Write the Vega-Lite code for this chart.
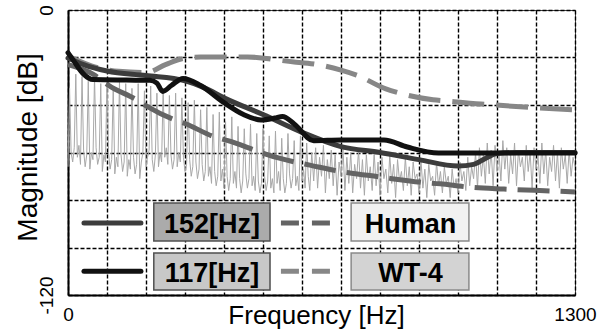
{
  "$schema": "https://vega.github.io/schema/vega-lite/v6.json",
  "width": 507,
  "height": 285,
  "autosize": {"type": "none"},
  "padding": {"left": 68, "top": 10, "right": 23, "bottom": 35},
  "background": "white",
  "config": {"view": {"stroke": "#444", "strokeWidth": 1}, "font": "Liberation Sans"},
  "datasets": {
    "noise": [
      {"f":0,"m":-66},{"f":4,"m":-33},{"f":8,"m":-60},{"f":12,"m":-64},{"f":16,"m":-58},{"f":20,"m":-27},{"f":24,"m":-62},{"f":28,"m":-57},{"f":32,"m":-65},{"f":36,"m":-28},{"f":40,"m":-59},{"f":44,"m":-66},{"f":48,"m":-61},{"f":52,"m":-30},{"f":56,"m":-67},{"f":60,"m":-60},{"f":64,"m":-63},{"f":68,"m":-28},{"f":72,"m":-58},{"f":76,"m":-65},{"f":80,"m":-62},{"f":84,"m":-31},{"f":88,"m":-68},{"f":92,"m":-61},{"f":96,"m":-64},{"f":100,"m":-29},{"f":104,"m":-60},{"f":108,"m":-67},{"f":112,"m":-63},{"f":116,"m":-32},{"f":120,"m":-69},{"f":124,"m":-62},{"f":128,"m":-66},{"f":132,"m":-30},{"f":136,"m":-61},{"f":140,"m":-68},{"f":144,"m":-64},{"f":148,"m":-31},{"f":152,"m":-70},{"f":156,"m":-63},{"f":160,"m":-67},{"f":164,"m":-33},{"f":168,"m":-62},{"f":172,"m":-69},{"f":176,"m":-65},{"f":180,"m":-31},{"f":184,"m":-71},{"f":188,"m":-64},{"f":192,"m":-60},{"f":196,"m":-34},{"f":200,"m":-66},{"f":204,"m":-62},{"f":208,"m":-59},{"f":212,"m":-32},{"f":216,"m":-63},{"f":220,"m":-68},{"f":224,"m":-61},{"f":228,"m":-35},{"f":232,"m":-66},{"f":236,"m":-60},{"f":240,"m":-64},{"f":244,"m":-33},{"f":248,"m":-62},{"f":252,"m":-58},{"f":256,"m":-65},{"f":260,"m":-36},{"f":264,"m":-61},{"f":268,"m":-67},{"f":272,"m":-63},{"f":276,"m":-35},{"f":280,"m":-66},{"f":284,"m":-60},{"f":288,"m":-64},{"f":292,"m":-37},{"f":296,"m":-62},{"f":300,"m":-68},{"f":304,"m":-65},{"f":308,"m":-39},{"f":312,"m":-63},{"f":316,"m":-70},{"f":320,"m":-66},{"f":324,"m":-38},{"f":328,"m":-64},{"f":332,"m":-71},{"f":336,"m":-67},{"f":340,"m":-42},{"f":344,"m":-65},{"f":348,"m":-72},{"f":352,"m":-68},{"f":356,"m":-41},{"f":360,"m":-70},{"f":364,"m":-66},{"f":368,"m":-73},{"f":372,"m":-44},{"f":376,"m":-68},{"f":380,"m":-74},{"f":384,"m":-70},{"f":388,"m":-43},{"f":392,"m":-72},{"f":396,"m":-67},{"f":400,"m":-75},{"f":404,"m":-47},{"f":408,"m":-70},{"f":412,"m":-76},{"f":416,"m":-71},{"f":420,"m":-45},{"f":424,"m":-73},{"f":428,"m":-68},{"f":432,"m":-75},{"f":436,"m":-49},{"f":440,"m":-71},{"f":444,"m":-77},{"f":448,"m":-72},{"f":452,"m":-50},{"f":456,"m":-69},{"f":460,"m":-75},{"f":464,"m":-71},{"f":468,"m":-48},{"f":472,"m":-74},{"f":476,"m":-70},{"f":480,"m":-76},{"f":484,"m":-52},{"f":488,"m":-72},{"f":492,"m":-77},{"f":496,"m":-73},{"f":500,"m":-50},{"f":504,"m":-70},{"f":508,"m":-76},{"f":512,"m":-72},{"f":516,"m":-53},{"f":520,"m":-75},{"f":524,"m":-71},{"f":528,"m":-77},{"f":532,"m":-51},{"f":536,"m":-73},{"f":540,"m":-68},{"f":544,"m":-76},{"f":548,"m":-54},{"f":552,"m":-71},{"f":556,"m":-77},{"f":560,"m":-73},{"f":564,"m":-52},{"f":568,"m":-69},{"f":572,"m":-75},{"f":576,"m":-71},{"f":580,"m":-55},{"f":584,"m":-74},{"f":588,"m":-70},{"f":592,"m":-76},{"f":596,"m":-53},{"f":600,"m":-72},{"f":604,"m":-67},{"f":608,"m":-75},{"f":612,"m":-56},{"f":616,"m":-70},{"f":620,"m":-76},
      {"f":625,"m":-60},{"f":630,"m":-72},{"f":635,"m":-58},{"f":640,"m":-75},{"f":645,"m":-62},{"f":650,"m":-70},{"f":655,"m":-57},{"f":660,"m":-77},{"f":665,"m":-63},{"f":670,"m":-71},{"f":675,"m":-59},{"f":680,"m":-74},{"f":685,"m":-61},{"f":690,"m":-78},{"f":695,"m":-64},{"f":700,"m":-70},{"f":705,"m":-58},{"f":710,"m":-76},{"f":715,"m":-62},{"f":720,"m":-73},{"f":725,"m":-60},{"f":730,"m":-77},{"f":735,"m":-65},{"f":740,"m":-71},{"f":745,"m":-59},{"f":750,"m":-75},{"f":755,"m":-63},{"f":760,"m":-78},{"f":765,"m":-61},{"f":770,"m":-72},{"f":775,"m":-66},{"f":780,"m":-76},{"f":785,"m":-60},{"f":790,"m":-74},{"f":795,"m":-64},{"f":800,"m":-78},{"f":805,"m":-62},{"f":810,"m":-71},{"f":815,"m":-67},{"f":820,"m":-77},{"f":825,"m":-61},{"f":830,"m":-73},{"f":835,"m":-65},{"f":840,"m":-79},{"f":845,"m":-63},{"f":850,"m":-72},{"f":855,"m":-68},{"f":860,"m":-76},{"f":865,"m":-62},{"f":870,"m":-74},{"f":875,"m":-66},{"f":880,"m":-78},{"f":885,"m":-64},{"f":890,"m":-71},{"f":895,"m":-69},{"f":900,"m":-77},{"f":905,"m":-63},{"f":910,"m":-75},{"f":915,"m":-67},{"f":920,"m":-79},{"f":925,"m":-65},{"f":930,"m":-72},{"f":935,"m":-70},{"f":940,"m":-78},{"f":945,"m":-64},{"f":950,"m":-74},{"f":955,"m":-68},{"f":960,"m":-77},{"f":965,"m":-66},{"f":970,"m":-73},{"f":975,"m":-70},{"f":980,"m":-79},{"f":985,"m":-67},{"f":990,"m":-75},{"f":995,"m":-71},{"f":1000,"m":-77},{"f":1005,"m":-64},{"f":1010,"m":-72},{"f":1015,"m":-68},{"f":1020,"m":-76},{"f":1025,"m":-62},{"f":1030,"m":-74},{"f":1035,"m":-66},{"f":1040,"m":-71},{"f":1045,"m":-60},{"f":1050,"m":-75},{"f":1055,"m":-58},{"f":1060,"m":-70},{"f":1065,"m":-61},{"f":1070,"m":-73},{"f":1075,"m":-56},{"f":1080,"m":-69},{"f":1085,"m":-59},{"f":1090,"m":-74},{"f":1095,"m":-57},{"f":1100,"m":-68},{"f":1105,"m":-60},{"f":1110,"m":-72},{"f":1115,"m":-55},{"f":1120,"m":-67},{"f":1125,"m":-58},{"f":1130,"m":-73},{"f":1135,"m":-61},{"f":1140,"m":-69},{"f":1145,"m":-56},{"f":1150,"m":-74},{"f":1155,"m":-59},{"f":1160,"m":-66},{"f":1165,"m":-62},{"f":1170,"m":-72},{"f":1175,"m":-57},{"f":1180,"m":-68},{"f":1185,"m":-60},{"f":1190,"m":-75},{"f":1195,"m":-58},{"f":1200,"m":-67},{"f":1205,"m":-61},{"f":1210,"m":-73},{"f":1215,"m":-56},{"f":1220,"m":-69},{"f":1225,"m":-59},{"f":1230,"m":-74},{"f":1235,"m":-62},{"f":1240,"m":-68},{"f":1245,"m":-57},{"f":1250,"m":-72},{"f":1255,"m":-60},{"f":1260,"m":-75},{"f":1265,"m":-58},{"f":1270,"m":-67},{"f":1275,"m":-61},{"f":1280,"m":-73},{"f":1285,"m":-59},{"f":1290,"m":-70},{"f":1295,"m":-62},{"f":1300,"m":-66}
    ],
    "curves": [
      {"s":"WT-4","f":0,"m":-19.4},{"s":"WT-4","f":60,"m":-23.5},{"s":"WT-4","f":130,"m":-25.8},{"s":"WT-4","f":200,"m":-26.3},{"s":"WT-4","f":250,"m":-23},{"s":"WT-4","f":290,"m":-20.6},{"s":"WT-4","f":340,"m":-19.8},{"s":"WT-4","f":460,"m":-19.8},{"s":"WT-4","f":580,"m":-21.9},{"s":"WT-4","f":615,"m":-22.4},{"s":"WT-4","f":700,"m":-25.3},{"s":"WT-4","f":740,"m":-27.4},{"s":"WT-4","f":815,"m":-33.2},{"s":"WT-4","f":846,"m":-34.8},{"s":"WT-4","f":936,"m":-37.8},{"s":"WT-4","f":969,"m":-38.3},{"s":"WT-4","f":1059,"m":-39.6},{"s":"WT-4","f":1095,"m":-40},{"s":"WT-4","f":1185,"m":-41},{"s":"WT-4","f":1300,"m":-42.1},
      {"s":"Human","f":0,"m":-23},{"s":"Human","f":64,"m":-27},{"s":"Human","f":105,"m":-31.8},{"s":"Human","f":177,"m":-37.9},{"s":"Human","f":205,"m":-40.8},{"s":"Human","f":274,"m":-46.3},{"s":"Human","f":300,"m":-47.8},{"s":"Human","f":377,"m":-53.5},{"s":"Human","f":410,"m":-55},{"s":"Human","f":479,"m":-59},{"s":"Human","f":513,"m":-61},{"s":"Human","f":582,"m":-64},{"s":"Human","f":620,"m":-65.3},{"s":"Human","f":692,"m":-67.8},{"s":"Human","f":723,"m":-68.6},{"s":"Human","f":800,"m":-70.3},{"s":"Human","f":826,"m":-70.9},{"s":"Human","f":910,"m":-72.6},{"s":"Human","f":954,"m":-73.2},{"s":"Human","f":1023,"m":-74.5},{"s":"Human","f":1118,"m":-75.4},{"s":"Human","f":1241,"m":-76.2},{"s":"Human","f":1300,"m":-76.6},
      {"s":"152[Hz]","f":0,"m":-20.2},{"s":"152[Hz]","f":40,"m":-23},{"s":"152[Hz]","f":100,"m":-25.7},{"s":"152[Hz]","f":200,"m":-27.6},{"s":"152[Hz]","f":300,"m":-29.8},{"s":"152[Hz]","f":350,"m":-32.8},{"s":"152[Hz]","f":400,"m":-37},{"s":"152[Hz]","f":500,"m":-44},{"s":"152[Hz]","f":600,"m":-51.5},{"s":"152[Hz]","f":700,"m":-57.5},{"s":"152[Hz]","f":800,"m":-60},{"s":"152[Hz]","f":900,"m":-63},{"s":"152[Hz]","f":1000,"m":-65.7},{"s":"152[Hz]","f":1040,"m":-65},{"s":"152[Hz]","f":1070,"m":-62.5},{"s":"152[Hz]","f":1100,"m":-60.4},{"s":"152[Hz]","f":1150,"m":-60},{"s":"152[Hz]","f":1300,"m":-60},
      {"s":"117[Hz]","f":0,"m":-18},{"s":"117[Hz]","f":13,"m":-21},{"s":"117[Hz]","f":40,"m":-27},{"s":"117[Hz]","f":64,"m":-29.3},{"s":"117[Hz]","f":150,"m":-29.5},{"s":"117[Hz]","f":210,"m":-29.6},{"s":"117[Hz]","f":228,"m":-30.8},{"s":"117[Hz]","f":243,"m":-34.3},{"s":"117[Hz]","f":265,"m":-31.8},{"s":"117[Hz]","f":295,"m":-28.8},{"s":"117[Hz]","f":340,"m":-31.8},{"s":"117[Hz]","f":400,"m":-39},{"s":"117[Hz]","f":450,"m":-44},{"s":"117[Hz]","f":495,"m":-46.3},{"s":"117[Hz]","f":530,"m":-45.5},{"s":"117[Hz]","f":550,"m":-44.8},{"s":"117[Hz]","f":580,"m":-48},{"s":"117[Hz]","f":630,"m":-55},{"s":"117[Hz]","f":700,"m":-54.7},{"s":"117[Hz]","f":810,"m":-54.7},{"s":"117[Hz]","f":870,"m":-57.7},{"s":"117[Hz]","f":950,"m":-60.2},{"s":"117[Hz]","f":1300,"m":-60.2}
    ],
    "legend": [
      {"label":"152[Hz]","f":220,"f2":518,"m":-81.3,"m2":-97.3,"tf":369,"tm":-93.8,"lf":41,"lf2":187,"lm":-89.7},
      {"label":"117[Hz]","f":220,"f2":518,"m":-102.3,"m2":-117.9,"tf":369,"tm":-114.4,"lf":41,"lf2":187,"lm":-110},
      {"label":"Human","f":726,"f2":1028,"m":-81.3,"m2":-97.3,"tf":878,"tm":-93.8,"lf":546,"lf2":672,"lm":-89.7},
      {"label":"WT-4","f":726,"f2":1028,"m":-102.3,"m2":-117.9,"tf":878,"tm":-114.4,"lf":546,"lf2":672,"lm":-110}
    ]
  },
  "layer": [
    {
      "data": {"name": "noise"},
      "mark": {"type": "line", "color": "#a8a8a8", "strokeWidth": 1},
      "encoding": {
        "x": {"field": "f", "type": "quantitative", "scale": {"domain": [0, 1300], "nice": false, "zero": false},
          "axis": {"values": [0,100,200,300,400,500,600,700,800,900,1000,1100,1200,1300], "tickCount": 30,
            "labelExpr": "datum.value==0?'0':(datum.value==1300?'1300':'')",
            "grid": true, "gridColor": "#000", "gridDash": [4, 2], "gridWidth": 1.4, "gridOpacity": 1,
            "ticks": false, "domain": true, "domainColor": "#000", "domainWidth": 2,
            "labelFont": "Liberation Sans", "labelFontSize": 19, "labelColor": "#000", "labelPadding": 10, "labelFlush": false, "labelOverlap": false,
            "title": "Frequency [Hz]", "titleFont": "Liberation Sans", "titleFontSize": 26, "titleFontWeight": "normal", "titleColor": "#000",
            "titleX": 248, "titleY": 28, "titleBaseline": "alphabetic", "titleAlign": "center"}},
        "y": {"field": "m", "type": "quantitative", "scale": {"domain": [-120, 0], "nice": false, "zero": false},
          "axis": {"values": [-120,-100,-80,-60,-40,-20,0], "tickCount": 30,
            "labelExpr": "datum.value==0?'0':(datum.value==-120?'-120':'')",
            "grid": true, "gridColor": "#000", "gridDash": [4, 2], "gridWidth": 1.4, "gridOpacity": 1,
            "ticks": false, "domain": true, "domainColor": "#000", "domainWidth": 2,
            "labelFont": "Liberation Sans", "labelFontSize": 19, "labelColor": "#000", "labelAngle": -90, "labelAlign": "center", "labelBaseline": "bottom", "labelPadding": 12, "labelFlush": false, "labelOverlap": false,
            "title": "Magnitude [dB]", "titleFont": "Liberation Sans", "titleFontSize": 28, "titleFontWeight": "normal", "titleColor": "#000",
            "titleAngle": -90, "titleX": -40, "titleY": 137, "titleAlign": "center", "titleBaseline": "middle"}}
      }
    },
    {
      "data": {"name": "curves"},
      "transform": [{"filter": "datum.s == 'WT-4'"}],
      "mark": {"type": "line", "color": "#878787", "strokeWidth": 5, "strokeDash": [32, 12], "strokeCap": "butt", "interpolate": "monotone"},
      "encoding": {"x": {"field": "f", "type": "quantitative"}, "y": {"field": "m", "type": "quantitative"}}
    },
    {
      "data": {"name": "curves"},
      "transform": [{"filter": "datum.s == 'Human'"}],
      "mark": {"type": "line", "color": "#646464", "strokeWidth": 5, "strokeDash": [32, 11], "strokeCap": "butt", "interpolate": "monotone"},
      "encoding": {"x": {"field": "f", "type": "quantitative"}, "y": {"field": "m", "type": "quantitative"}}
    },
    {
      "data": {"name": "curves"},
      "transform": [{"filter": "datum.s == '152[Hz]'"}],
      "mark": {"type": "line", "color": "#3c3c3c", "strokeWidth": 5, "strokeCap": "round", "interpolate": "monotone"},
      "encoding": {"x": {"field": "f", "type": "quantitative"}, "y": {"field": "m", "type": "quantitative"}}
    },
    {
      "data": {"name": "curves"},
      "transform": [{"filter": "datum.s == '117[Hz]'"}],
      "mark": {"type": "line", "color": "#111111", "strokeWidth": 5, "strokeCap": "round", "interpolate": "monotone"},
      "encoding": {"x": {"field": "f", "type": "quantitative"}, "y": {"field": "m", "type": "quantitative"}}
    },
    {
      "data": {"name": "legend"},
      "mark": {"type": "rect", "strokeWidth": 1.5},
      "encoding": {
        "x": {"field": "f", "type": "quantitative"}, "x2": {"field": "f2"},
        "y": {"field": "m", "type": "quantitative"}, "y2": {"field": "m2"},
        "fill": {"field": "label", "type": "nominal", "legend": null, "scale": {"domain": ["152[Hz]","117[Hz]","Human","WT-4"], "range": ["#ababab","#c8c8c8","#f1f1f1","#d3d3d3"]}},
        "stroke": {"field": "label", "type": "nominal", "legend": null, "scale": {"domain": ["152[Hz]","117[Hz]","Human","WT-4"], "range": ["#505050","#505050","#8a8a8a","#8a8a8a"]}}
      }
    },
    {
      "data": {"name": "legend"},
      "transform": [{"filter": "datum.label == '152[Hz]' || datum.label == '117[Hz]'"}],
      "mark": {"type": "rule", "strokeWidth": 5, "strokeCap": "round"},
      "encoding": {
        "x": {"field": "lf", "type": "quantitative"}, "x2": {"field": "lf2"},
        "y": {"field": "lm", "type": "quantitative"},
        "color": {"field": "label", "type": "nominal", "legend": null, "scale": {"domain": ["152[Hz]","117[Hz]","Human","WT-4"], "range": ["#3c3c3c","#111111","#646464","#878787"]}}
      }
    },
    {
      "data": {"name": "legend"},
      "transform": [{"filter": "datum.label == 'Human' || datum.label == 'WT-4'"}],
      "mark": {"type": "rule", "strokeWidth": 5, "strokeCap": "butt", "strokeDash": [18, 13]},
      "encoding": {
        "x": {"field": "lf", "type": "quantitative"}, "x2": {"field": "lf2"},
        "y": {"field": "lm", "type": "quantitative"},
        "color": {"field": "label", "type": "nominal", "legend": null, "scale": {"domain": ["152[Hz]","117[Hz]","Human","WT-4"], "range": ["#3c3c3c","#111111","#646464","#878787"]}}
      }
    },
    {
      "data": {"name": "legend"},
      "mark": {"type": "text", "font": "Liberation Sans", "fontSize": 27, "fontWeight": "bold", "color": "#000", "align": "center", "baseline": "alphabetic"},
      "encoding": {
        "x": {"field": "tf", "type": "quantitative"},
        "y": {"field": "tm", "type": "quantitative"},
        "text": {"field": "label"}
      }
    }
  ]
}
